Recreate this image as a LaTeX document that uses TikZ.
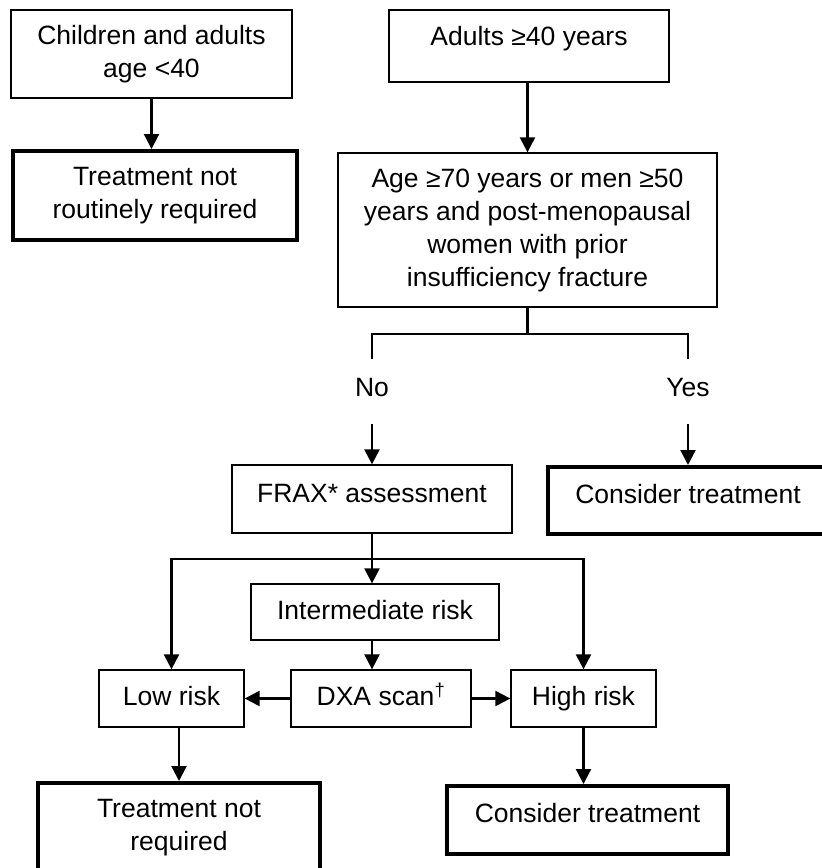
\documentclass[tikz,border=0pt]{standalone}
\usepackage{fontspec}
\setmainfont{Liberation Sans}
\usetikzlibrary{arrows.meta}

\begin{document}
\begin{tikzpicture}[x=1pt,y=-1pt]
        \tikzstyle{every node}=[font=\fontsize{26.5}{33}\selectfont]
        \tikzstyle{plainbox}=[draw, line width=1.3pt, align=center, inner sep=0pt]
        \tikzstyle{thickbox}=[plainbox, line width=4pt]
        \tikzstyle{oneline}=[text height=19pt, text depth=5pt]
        \tikzstyle{branch}=[anchor=base, text height=19pt, text depth=10pt, inner sep=18pt]
        \tikzstyle{link}=[line width=2.2pt]
        \tikzstyle{arrowlink}=[link, -{Triangle[length=15pt,width=15pt]}]

        \useasboundingbox (0,0) rectangle (822,868);
        \clip (0,0) rectangle (822,868);

        % age groups
        \node[plainbox, minimum width=281pt, minimum height=88pt] (children) at (151.5,54) {Children and adults\\age <40};
        \node[thickbox, minimum width=284pt, minimum height=89pt] (routine) at (155,195.5) {Treatment not\\routinely required};
        \node[plainbox, oneline, text depth=21pt, minimum width=280pt, minimum height=72pt] (adults) at (529,46) {Adults ≥40 years};
        \node[plainbox, minimum width=379pt, minimum height=154pt] (age) at (527.5,230)
            {Age ≥70 years or men ≥50\\years and post-menopausal\\women with prior\\insufficiency fracture};

        % yes / no split
        \node[branch] (no) at (372,396) {No};
        \node[branch] (yes) at (688,396) {Yes};
        \node[plainbox, oneline, text depth=13pt, minimum width=280pt, minimum height=68pt] (frax) at (372,499) {FRAX* assessment};
        \node[thickbox, oneline, text depth=14pt, minimum width=280pt, minimum height=67pt] (treatyes) at (688,500.5) {Consider treatment};

        % risk levels
        \node[plainbox, oneline, minimum width=248pt, minimum height=56pt] (inter) at (375,612) {Intermediate risk};
        \node[plainbox, oneline, minimum width=145pt, minimum height=57pt] (low) at (171.5,698.5) {Low risk};
        \node[plainbox, oneline, minimum width=180pt, minimum height=57pt] (dxa) at (381,698.5) {DXA scan\textsuperscript{†}};
        \node[plainbox, oneline, minimum width=145pt, minimum height=57pt] (high) at (583.5,698.5) {High risk};
        \node[thickbox, minimum width=282pt, minimum height=90pt] (notreq) at (179,828) {Treatment not\\required};
        \node[thickbox, oneline, text depth=15pt, minimum width=281pt, minimum height=68pt] (treathigh) at (587.5,820) {Consider treatment};

        \draw[arrowlink] (children.south) -- (children.south |- routine.north);
        \draw[arrowlink] (age.north |- adults.south) -- (age.north);

        \path (age.south) ++(0,26) coordinate (fork);
        \draw[link] (age.south) -- (fork);
        \draw[link] (no.north) |- (fork) -| (yes.north);
        \draw[arrowlink] (no.south) -- (frax.north);
        \draw[arrowlink] (yes.south) -- (treatyes.north);

        \path (frax.south) ++(0,25) coordinate (riskfork);
        \draw[arrowlink] (frax.south) -- (frax.south |- inter.north);
        \draw[arrowlink] (riskfork) -| (low.north);
        \draw[arrowlink] (riskfork) -| (high.north);
        \draw[arrowlink] (frax.south |- inter.south) -- (frax.south |- dxa.north);
        \draw[arrowlink] (dxa.west) -- (low.east);
        \draw[arrowlink] (dxa.east) -- (high.west);
        \draw[arrowlink] (notreq.north |- low.south) -- (notreq.north);
        \draw[arrowlink] (high.south) -- (high.south |- treathigh.north);
\end{tikzpicture}
\end{document}
